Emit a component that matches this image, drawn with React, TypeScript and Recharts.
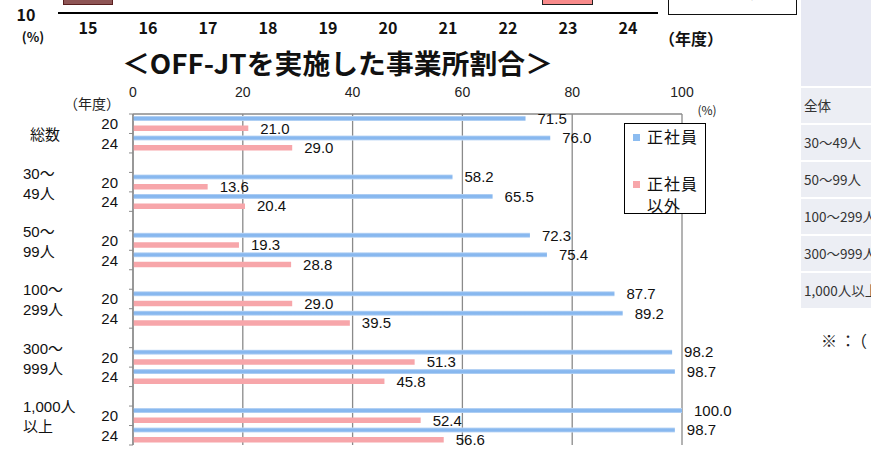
import React from 'react';
import { BarChart, Bar, XAxis, YAxis, CartesianGrid, LabelList, Legend } from 'recharts';

// ---- data ----
const groupLabels: string[][] = [
  ['総数'],
  ['30〜', '49人'],
  ['50〜', '99人'],
  ['100〜', '299人'],
  ['300〜', '999人'],
  ['1,000人', '以上'],
];
const years = ['20', '24'];
const seishain = [71.5, 76.0, 58.2, 65.5, 72.3, 75.4, 87.7, 89.2, 98.2, 98.7, 100.0, 98.7];
const seishainIgai = [21.0, 29.0, 13.6, 20.4, 19.3, 28.8, 29.0, 39.5, 51.3, 45.8, 52.4, 56.6];
const seriesNames = ['正社員', '正社員以外'];
const xTicks = [0, 20, 40, 60, 80, 100];
const topYears = ['15', '16', '17', '18', '19', '20', '21', '22', '23', '24'];
const tableRows = ['全体', '30〜49人', '50〜99人', '100〜299人', '300〜999人', '1,000人以上'];

type Row = { key: string; year: string; group: number; sei: number | null; igai: number | null };
const rows: Row[] = [];
groupLabels.forEach((g, gi) => {
  years.forEach((y, yi) => {
    const i = gi * 2 + yi;
    rows.push({ key: `${gi}-${y}`, year: y, group: yi === 0 ? gi : -1, sei: seishain[i], igai: seishainIgai[i] });
  });
  if (gi < groupLabels.length - 1) rows.push({ key: `gap${gi}`, year: '', group: -1, sei: null, igai: null });
});
const topData = topYears.map((y) => ({ year: y }));

// ---- styles ----
const FONT = "'Liberation Sans', 'Noto Sans CJK JP', sans-serif";
const JFONT = "'Noto Sans CJK JP', sans-serif";
const BLUE = '#8cbcf0';
const PINK = '#f7a6aa';
const GRID = '#8a8a8a';
const W = 871;
const H = 471;

const YTick = (props: any) => {
  const { x, y, payload, index } = props;
  const row = rows[index] ?? rows.find((r) => r.key === payload?.value);
  const half = payload?.offset ?? 331 / 17 / 2;
  const isLast = index === rows.length - 1;
  const g = row && row.group >= 0 ? groupLabels[row.group] : null;
  return (
    <g>
      <line x1={x - 4} x2={x} y1={y - half} y2={y - half} stroke={GRID} strokeWidth={1} />
      {isLast && <line x1={x - 4} x2={x} y1={y + half} y2={y + half} stroke={GRID} strokeWidth={1} />}
      {row && row.year && (
        <text x={x - 15} y={y} textAnchor="end" dominantBaseline="central" fontSize={15} fill="#111" fontFamily={FONT}>
          {row.year}
        </text>
      )}
      {g && g.length === 1 && (
        <text x={30} y={y + 10} dominantBaseline="central" fontSize={15} fill="#111" fontFamily={JFONT}>
          {g[0]}
        </text>
      )}
      {g && g.length === 2 && (
        <>
          <text x={23} y={y - 9} dominantBaseline="central" fontSize={15} fill="#111" fontFamily={FONT}>
            {g[0]}
          </text>
          <text x={23} y={y + 11} dominantBaseline="central" fontSize={15} fill="#111" fontFamily={FONT}>
            {g[1]}
          </text>
        </>
      )}
    </g>
  );
};

const XTick = (props: any) => {
  const { x, y, payload } = props;
  return (
    <text x={x} y={y - 22} textAnchor="middle" dominantBaseline="central" fontSize={14} fill="#222" fontFamily={FONT}>
      {payload.value}
    </text>
  );
};

const TopTick = (props: any) => {
  const { x, y, payload } = props;
  return (
    <text x={x} y={y + 14} textAnchor="middle" dominantBaseline="central" fontSize={16} fontWeight="bold" fill="#111" fontFamily={JFONT}>
      {payload.value}
    </text>
  );
};

const legendColors = [BLUE, PINK];
const LegendBox = () => (
  <div
    style={{
      position: 'relative',
      width: 82,
      height: 91,
      border: '1.5px solid #000',
      boxSizing: 'border-box',
      background: '#fff',
      fontFamily: JFONT,
      fontSize: 16,
      color: '#111',
      textAlign: 'left',
    }}
  >
    {seriesNames.map((n, i) => {
      const top = i === 0 ? 3 : 50;
      const lines = i === 0 ? [n] : [n.slice(0, 3), n.slice(3)];
      return (
        <div key={n} style={{ position: 'absolute', left: 8, top }}>
          <div style={{ position: 'absolute', left: 0, top: 7, width: 7, height: 7, background: legendColors[i] }} />
          {lines.map((l, li) => (
            <div key={li} style={{ position: 'absolute', left: 14, top: li * 22 - 2, whiteSpace: 'nowrap', letterSpacing: 1, lineHeight: '22px' }}>
              {l}
            </div>
          ))}
        </div>
      );
    })}
  </div>
);

export default function App() {
  return (
    <div style={{ position: 'absolute', left: 0, top: 0, width: W, height: H, overflow: 'hidden', background: '#fff' }}>
      {/* partial top chart axis */}
      <div style={{ position: 'absolute', left: 0, top: 0 }}>
        <BarChart width={W} height={60} data={topData} margin={{ top: 0, right: 213, bottom: 0, left: 58 }}>
          <XAxis
            dataKey="year"
            height={47}
            axisLine={{ stroke: '#000', strokeWidth: 2 }}
            tickLine={false}
            tickSize={0}
            tickMargin={0}
            tick={<TopTick />}
            interval={0}
          />
          <YAxis hide width={0} />
        </BarChart>
      </div>
      <div style={{ position: 'absolute', left: 63, top: -4, width: 50, height: 9, background: '#8e5555', border: '1.5px solid #5a1f1f', boxSizing: 'border-box' }} />
      <div style={{ position: 'absolute', left: 542, top: -4, width: 51, height: 9, background: '#f88a8a', border: '1.5px solid #222', boxSizing: 'border-box' }} />
      <div style={{ position: 'absolute', left: 668, top: -5, width: 129, height: 20, border: '1.5px solid #111', boxSizing: 'border-box', background: '#fff', overflow: 'hidden' }}>
        <div style={{ position: 'absolute', left: 68, top: -9, fontSize: 12, lineHeight: '14px', color: '#777', fontFamily: JFONT, whiteSpace: 'nowrap' }}>正社員以外</div>
      </div>

      {/* main chart */}
      <div style={{ position: 'absolute', left: 0, top: 0 }}>
        <BarChart
          width={W}
          height={H}
          data={rows}
          layout="vertical"
          barGap={4.5}
          barCategoryGap={0}
          margin={{ top: 84, right: 189, bottom: 26, left: 13 }}
        >
          <defs>
            <linearGradient id="blueGrad" x1="0" y1="0" x2="0" y2="1">
              <stop offset="0" stopColor="#c4dbf6" />
              <stop offset="0.3" stopColor="#88b8ef" />
              <stop offset="0.7" stopColor="#88b8ef" />
              <stop offset="1" stopColor="#c4dbf6" />
            </linearGradient>
          </defs>
          <CartesianGrid horizontal={false} vertical stroke={GRID} strokeWidth={1.3} />
          <XAxis
            type="number"
            orientation="top"
            domain={[0, 100]}
            ticks={xTicks}
            height={30}
            axisLine={{ stroke: GRID, strokeWidth: 1.3 }}
            tickLine={false}
            tickSize={0}
            tickMargin={0}
            tick={<XTick />}
            interval={0}
          />
          <YAxis
            type="category"
            dataKey="key"
            width={120}
            axisLine={{ stroke: GRID, strokeWidth: 1.3 }}
            tickLine={false}
            tickSize={0}
            tickMargin={0}
            tick={<YTick />}
            interval={0}
          />
          <Bar dataKey="sei" name={seriesNames[0]} fill="url(#blueGrad)" barSize={5} isAnimationActive={false}>
            <LabelList
              dataKey="sei"
              position="right"
              offset={12}
              formatter={(v: any) => (v == null ? '' : Number(v).toFixed(1))}
              style={{ fontSize: 15, fill: '#111', fontFamily: FONT }}
            />
          </Bar>
          <Bar dataKey="igai" name={seriesNames[1]} fill={PINK} barSize={5.5} isAnimationActive={false}>
            <LabelList
              dataKey="igai"
              position="right"
              offset={12}
              formatter={(v: any) => (v == null ? '' : Number(v).toFixed(1))}
              style={{ fontSize: 15, fill: '#111', fontFamily: FONT }}
            />
          </Bar>
          <Legend
            layout="vertical"
            align="center"
            verticalAlign="middle"
            content={() => <LegendBox />}
            wrapperStyle={{ position: 'absolute', left: 624, top: 123, width: 82, height: 91, bottom: 'auto', right: 'auto' }}
          />
        </BarChart>
      </div>

      {/* texts */}
      <svg width={W} height={H} style={{ position: 'absolute', left: 0, top: 0, pointerEvents: 'none' }}>
        <text x={26} y={14} textAnchor="middle" dominantBaseline="central" fontSize={16} fontWeight="bold" fill="#111" fontFamily={JFONT}>10</text>
        <text x={33} y={36} textAnchor="middle" dominantBaseline="central" fontSize={13} fontWeight="bold" fill="#111" fontFamily={JFONT}>(%)</text>
        <text x={691} y={38} textAnchor="middle" dominantBaseline="central" fontSize={16} fontWeight="bold" fill="#111" fontFamily={JFONT}>（年度）</text>
        <text x={122} y={62} dominantBaseline="central" fontSize={27} fontWeight="bold" fill="#111" fontFamily={JFONT} textLength={431} lengthAdjust="spacingAndGlyphs">
          ＜OFF-JTを実施した事業所割合＞
        </text>
        <text x={92} y={103} textAnchor="middle" dominantBaseline="central" fontSize={14} fill="#222" fontFamily={JFONT}>（年度）</text>
        <text x={707} y={109} textAnchor="middle" dominantBaseline="central" fontSize={12} fill="#222" fontFamily={JFONT}>(%)</text>
        <text x={821} y={340} dominantBaseline="central" fontSize={16} letterSpacing={3} fill="#222" fontFamily={JFONT}>※：（</text>
      </svg>

      {/* right-side table fragment */}
      <div style={{ position: 'absolute', left: 801, top: 0, width: 70, height: 86, background: '#e7e9f3' }} />
      {tableRows.map((t, i) => (
        <div
          key={t}
          style={{
            position: 'absolute',
            left: 801,
            top: 88 + i * 37,
            width: 70,
            height: 35,
            background: '#eceef4',
            fontFamily: JFONT,
            fontSize: 13.5,
            color: '#333',
            lineHeight: '35px',
            paddingLeft: 3,
            whiteSpace: 'nowrap',
            overflow: 'hidden',
            boxSizing: 'border-box',
          }}
        >
          {t}
        </div>
      ))}
    </div>
  );
}
